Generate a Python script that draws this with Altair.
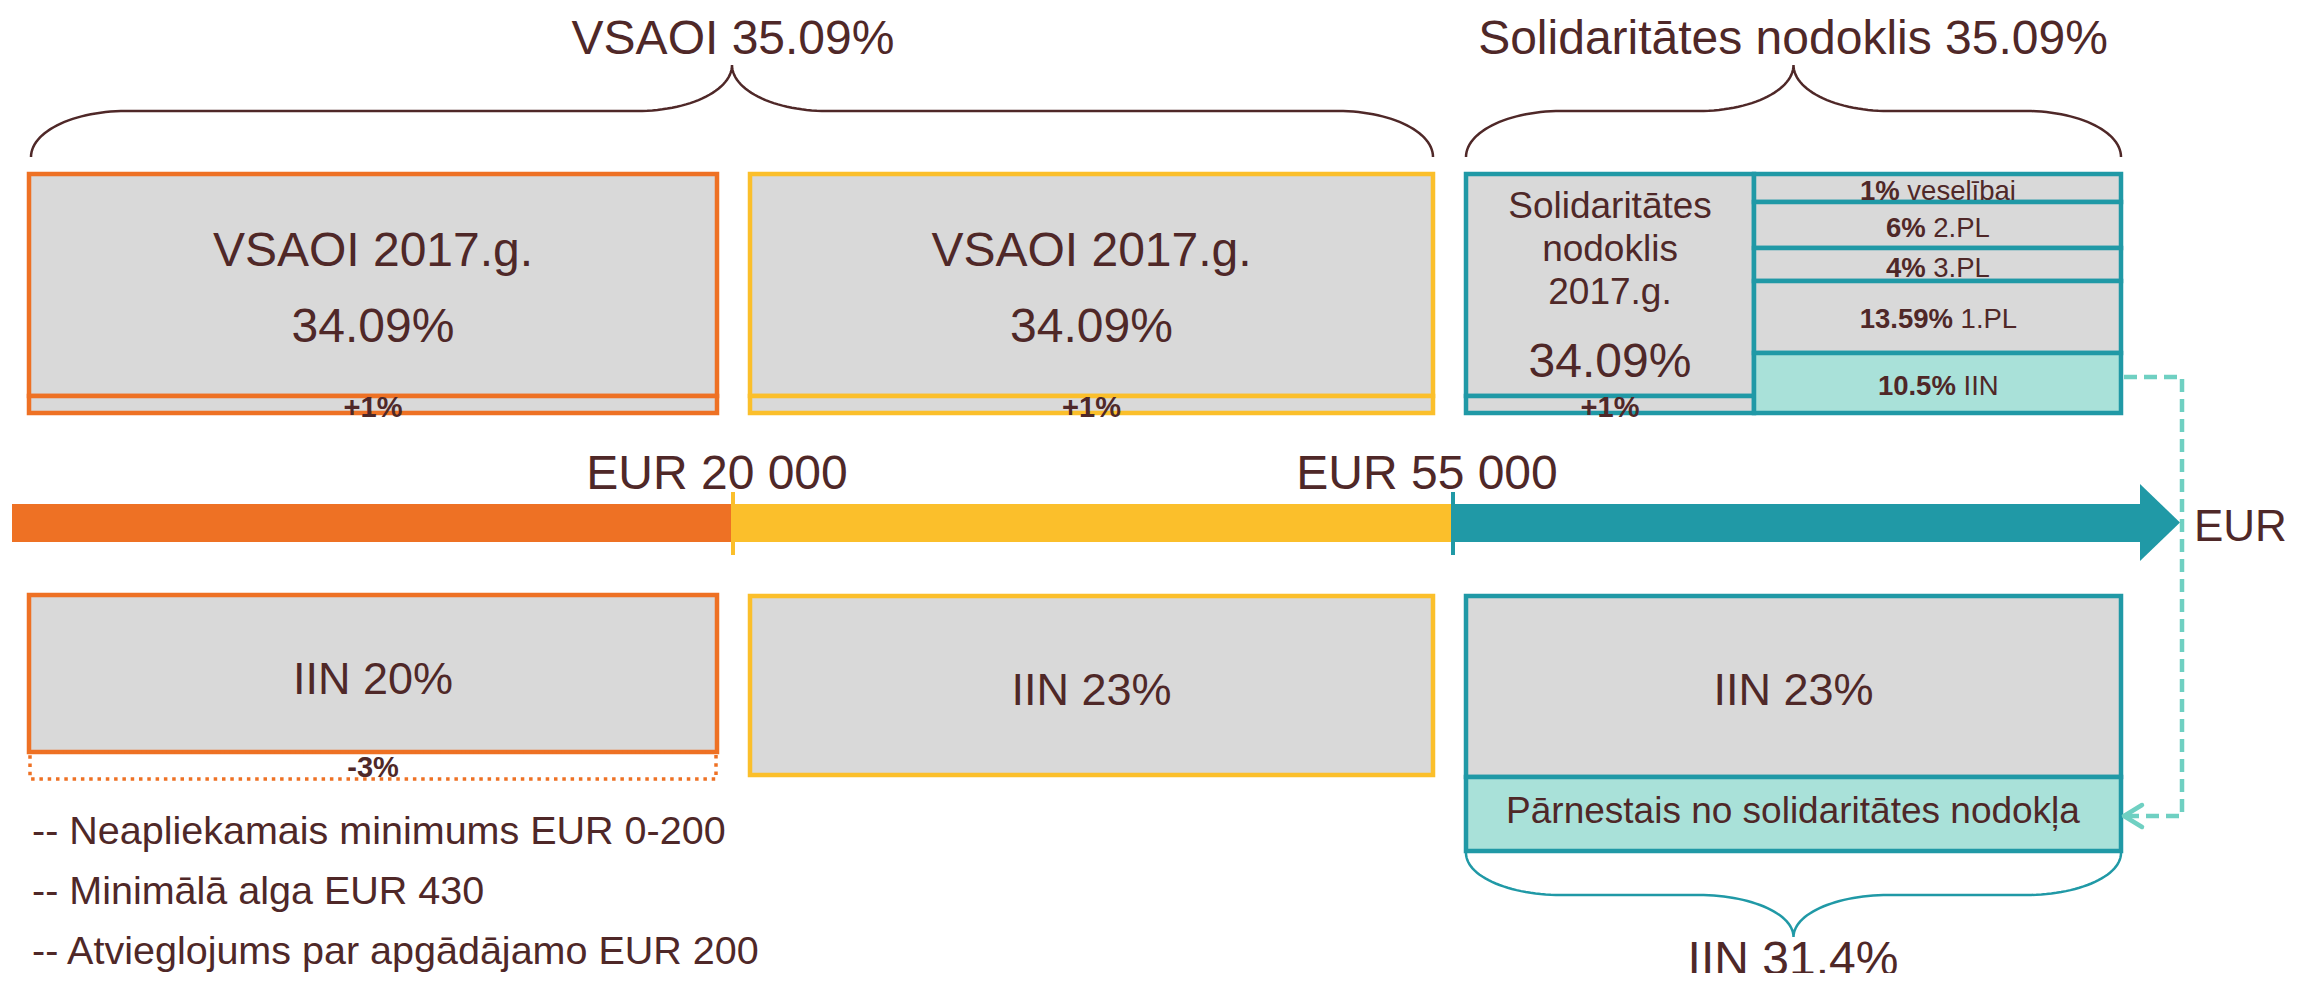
import altair as alt
import pandas as pd
import numpy as np

# ---------------- text content ----------------
brace_titles = ["VSAOI 35.09%", "Solidaritātes nodoklis 35.09%"]
thresholds = ["EUR 20 000", "EUR 55 000"]
axis_unit = "EUR"
vsaoi_label = ["VSAOI 2017.g.", "VSAOI 2017.g."]
vsaoi_rate = ["34.09%", "34.09%"]
increase = ["+1%", "+1%", "+1%"]
solid_title = ["Solidaritātes", "nodoklis", "2017.g."]
solid_rate = "34.09%"
split_bold = ["1%", "6%", "4%", "13.59%", "10.5%"]
split_text = ["veselībai", "2.PL", "3.PL", "1.PL", "IIN"]
iin_labels = ["IIN 20%", "IIN 23%", "IIN 23%"]
decrease = "-3%"
transferred = "Pārnestais no solidaritātes nodokļa"
iin_total = "IIN 31.4%"
notes = ["-- Neapliekamais minimums EUR 0-200",
         "-- Minimālā alga EUR 430",
         "-- Atvieglojums par apgādājamo EUR 200"]

# ---------------- styling / layout ----------------
FONT = "Liberation Sans, Arial, sans-serif"
ORANGE, YELLOW, TEAL = "#EE7124", "#FBBF2B", "#2099A6"
LTEAL, DASHC, GRAY, TXT = "#A9E1D9", "#6FD0C2", "#D9D9D9", "#4F2828"

cols = [(29, 717), (750, 1433), (1466, 2121)]
col_colors = [ORANGE, YELLOW, TEAL]
split_x = 1754
row_edges = [174, 202, 248, 281, 353, 413]

XS = alt.Scale(domain=[8, 2290], range=[0, 2282], nice=False, zero=False)
YS = alt.Scale(domain=[8, 973], range=[0, 965], nice=False, zero=False)


def X(f="x"):
    return alt.X(f"{f}:Q", scale=XS, axis=None)


def Y(f="y"):
    return alt.Y(f"{f}:Q", scale=YS, axis=None)


# ---------------- rectangles ----------------
rects = []
for (a, b), c in zip(cols[:2], col_colors[:2]):
    rects.append(dict(x=a, x2=b, y=174, y2=396, fill=GRAY, stroke=c))
    rects.append(dict(x=a, x2=b, y=396, y2=413, fill=GRAY, stroke=c))
rects.append(dict(x=1466, x2=split_x, y=174, y2=396, fill=GRAY, stroke=TEAL))
rects.append(dict(x=1466, x2=split_x, y=396, y2=413, fill=GRAY, stroke=TEAL))
for i in range(5):
    rects.append(dict(x=split_x, x2=2121, y=row_edges[i], y2=row_edges[i + 1],
                      fill=LTEAL if i == 4 else GRAY, stroke=TEAL))
rects.append(dict(x=29, x2=717, y=595, y2=752, fill=GRAY, stroke=ORANGE))
rects.append(dict(x=750, x2=1433, y=596, y2=775, fill=GRAY, stroke=YELLOW))
rects.append(dict(x=1466, x2=2121, y=596, y2=777, fill=GRAY, stroke=TEAL))
rects.append(dict(x=1466, x2=2121, y=777, y2=851, fill=LTEAL, stroke=TEAL))
rect_df = pd.DataFrame(rects)

boxes = alt.Chart(rect_df).mark_rect(strokeWidth=4.5).encode(
    x=X(), x2="x2:Q", y=Y(), y2="y2:Q",
    fill=alt.Fill("fill:N", scale=None), stroke=alt.Stroke("stroke:N", scale=None))

dotted = alt.Chart(pd.DataFrame([dict(x=30, x2=716, y=752, y2=779)])).mark_rect(
    fill=None, stroke=ORANGE, strokeWidth=3.5, strokeDash=[3.5, 4.8]).encode(
    x=X(), x2="x2:Q", y=Y(), y2="y2:Q")

# ---------------- income axis ----------------
bar_df = pd.DataFrame([
    dict(x=12, x2=731, y=504, y2=542, c=ORANGE),
    dict(x=731, x2=1453, y=504, y2=542, c=YELLOW),
    dict(x=1453, x2=2141, y=504, y2=542, c=TEAL),
])
bar = alt.Chart(bar_df).mark_rect().encode(
    x=X(), x2="x2:Q", y=Y(), y2="y2:Q", color=alt.Color("c:N", scale=None))

head = alt.Chart(pd.DataFrame([dict(x=2140, y=484, y2=561), dict(x=2180, y=522.5, y2=522.5)])).mark_area(
    color=TEAL, orient="vertical").encode(x=X(), y=Y(), y2="y2:Q")

tick_df = pd.DataFrame([dict(x=733, y=492, y2=555, c=YELLOW), dict(x=1453, y=492, y2=555, c=TEAL)])
ticks = alt.Chart(tick_df).mark_rule(strokeWidth=4).encode(
    x=X(), y=Y(), y2="y2:Q", color=alt.Color("c:N", scale=None))


# ---------------- braces ----------------
def brace(x0, x1, y_end, y_mid, y_peak, rx, key):
    xc = (x0 + x1) / 2
    t = np.linspace(0, np.pi / 2, 30)
    ry1 = y_end - y_mid
    ry2 = y_mid - y_peak
    px = list(x0 + rx - rx * np.cos(t)) + list(xc - rx + rx * np.sin(t))
    py = list(y_end - ry1 * np.sin(t)) + list(y_peak + ry2 * np.cos(t))
    px_r = [2 * xc - v for v in px[::-1]]
    py_r = py[::-1]
    xs = px + px_r
    ys = py + py_r
    return pd.DataFrame(dict(x=xs, y=ys, o=range(len(xs)), k=key))


br_df = pd.concat([
    brace(31, 1433, 157, 111, 65, 95, "a").assign(c=TXT),
    brace(1466, 2121, 157, 111, 65, 95, "b").assign(c=TXT),
    brace(1466, 2121, 853, 895, 937, 95, "c").assign(c=TEAL),
])
braces = alt.Chart(br_df).mark_line(strokeWidth=2.5).encode(
    x=X(), y=Y(), order="o:Q", detail="k:N", color=alt.Color("c:N", scale=None))

# ---------------- dashed connector ----------------
conn_df = pd.DataFrame(dict(x=[2124, 2182, 2182, 2127], y=[377, 377, 816, 816], o=[0, 1, 2, 3]))
conn = alt.Chart(conn_df).mark_line(color=DASHC, strokeWidth=4.5, strokeDash=[13, 7]).encode(
    x=X(), y=Y(), order="o:Q")
chev_df = pd.DataFrame(dict(x=[2142, 2124, 2142], y=[805, 816, 827], o=[0, 1, 2]))
chev = alt.Chart(chev_df).mark_line(color=DASHC, strokeWidth=4.5, strokeCap="round",
                                    strokeJoin="round").encode(x=X(), y=Y(), order="o:Q")

# ---------------- texts ----------------
REG = {c: 556 for c in "0123456789"}
REG.update({".": 278, "%": 889, " ": 278, "P": 667, "L": 556, "I": 278, "N": 722,
            "v": 500, "e": 556, "s": 500, "l": 222, "ī": 278, "b": 556, "a": 556, "i": 222})


def tw(s, size):
    return sum(REG.get(ch, 556) for ch in s) / 1000 * size


def mid(c, size):
    return c + 0.06 * size


BIG = 48
center_txt = []
for i, (a, b) in enumerate(cols[:2]):
    cx = (a + b) / 2
    center_txt.append(dict(x=cx, y=mid(249, BIG), text=vsaoi_label[i], size=BIG))
    center_txt.append(dict(x=cx, y=mid(325, BIG), text=vsaoi_rate[i], size=BIG))
lx = (1466 + split_x) / 2
for t, yy in zip(solid_title, [205, 248, 291]):
    center_txt.append(dict(x=lx, y=mid(yy, 37), text=t, size=37))
center_txt.append(dict(x=lx, y=mid(360, BIG), text=solid_rate, size=BIG))
center_txt.append(dict(x=733, y=mid(37, BIG), text=brace_titles[0], size=BIG))
center_txt.append(dict(x=1793, y=mid(37, BIG), text=brace_titles[1], size=BIG))
center_txt.append(dict(x=717, y=mid(472, BIG), text=thresholds[0], size=BIG))
center_txt.append(dict(x=1427, y=mid(472, BIG), text=thresholds[1], size=BIG))
for (a, b), t, yy in zip(cols, iin_labels, [677, 688, 688]):
    center_txt.append(dict(x=(a + b) / 2, y=mid(yy, 45), text=t, size=45))
center_txt.append(dict(x=1793, y=mid(810, 37), text=transferred, size=37))
center_txt.append(dict(x=1793, y=mid(958, BIG), text=iin_total, size=BIG))
center_df = pd.DataFrame(center_txt)

bold_c = []
for (a, b), t in zip([cols[0], cols[1], (1466, split_x)], increase):
    bold_c.append(dict(x=(a + b) / 2, y=mid(406, 29), text=t, size=29))
bold_c.append(dict(x=373, y=mid(766, 29), text=decrease, size=29))
bold_c_df = pd.DataFrame(bold_c)

rcx = (split_x + 2121) / 2
row_y = [190, 227, 267, 318, 385]
bold_r, reg_l = [], []
for bt, rt, yy in zip(split_bold, split_text, row_y):
    s = 27.5
    wb, ws, wr = tw(bt, s) * 1.02, tw(" ", s), tw(rt, s)
    left = rcx - (wb + ws + wr) / 2
    bold_r.append(dict(x=left + wb, y=mid(yy, s), text=bt, size=s))
    reg_l.append(dict(x=left + wb + ws, y=mid(yy, s), text=rt, size=s))
for t, yy in zip(notes, [830, 890, 950]):
    reg_l.append(dict(x=32, y=mid(yy, 39.5), text=t, size=39.5))
reg_l.append(dict(x=2194, y=mid(525, 44), text=axis_unit, size=44))
bold_r_df = pd.DataFrame(bold_r)
reg_l_df = pd.DataFrame(reg_l)


def text_layer(df, align, weight):
    return alt.Chart(df).mark_text(align=align, baseline="middle", font=FONT,
                                   fontWeight=weight, color=TXT).encode(
        x=X(), y=Y(), text="text:N", size=alt.Size("size:Q", scale=None, legend=None))


chart = alt.layer(
    boxes, dotted, bar, head, ticks, braces, conn, chev,
    text_layer(center_df, "center", "normal"),
    text_layer(bold_c_df, "center", "bold"),
    text_layer(bold_r_df, "right", "bold"),
    text_layer(reg_l_df, "left", "normal"),
).properties(
    width=2282, height=965, padding=0, autosize=alt.AutoSizeParams(type="none"),
    background="white",
).configure_view(stroke=None)

chart.save("out.html", embed_options={"renderer": "svg", "actions": False})
